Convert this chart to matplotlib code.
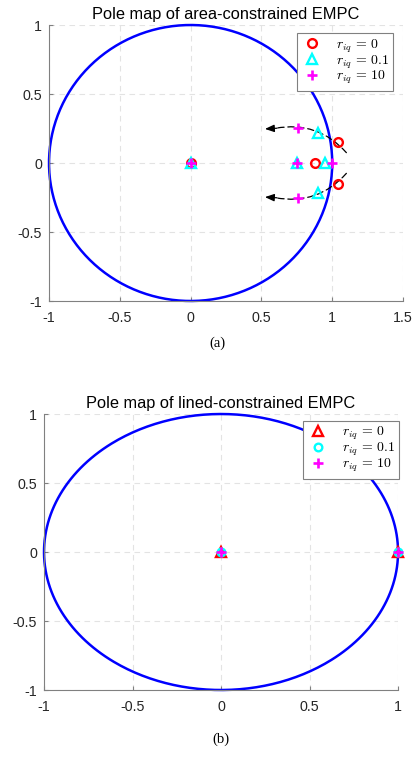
import numpy as np
import matplotlib
matplotlib.use("Agg")
import matplotlib.pyplot as plt
from matplotlib.ticker import FuncFormatter

plt.rcParams['font.family'] = ['Liberation Sans', 'DejaVu Sans']
plt.rcParams['mathtext.fontset'] = 'cm'
plt.rcParams['axes.unicode_minus'] = False

# Closed-loop poles, area-constrained EMPC (real / imaginary parts)
area_r0_re = [0.0, 0.88, 1.04, 1.04]
area_r0_im = [0.0, 0.0, 0.15, -0.15]
area_r01_re = [0.0, 0.75, 0.95, 0.90, 0.90]
area_r01_im = [0.0, 0.0, 0.0, 0.215, -0.215]
area_r10_re = [0.0, 0.75, 1.00, 0.755, 0.755]
area_r10_im = [0.0, 0.0, 0.0, 0.255, -0.255]

# Closed-loop poles, line-constrained EMPC
line_r0_re = [0.0, 1.0]
line_r0_im = [0.0, 0.0]
line_r01_re = [0.0, 1.0]
line_r01_im = [0.0, 0.0]
line_r10_re = [0.0, 1.0]
line_r10_im = [0.0, 0.0]

labels = [r'$r_{iq}\,=\,0$', r'$r_{iq}\,=\,0.1$', r'$r_{iq}\,=\,10$']
top_xticks = [-1, -0.5, 0, 0.5, 1, 1.5]
bot_xticks = [-1, -0.5, 0, 0.5, 1]
yticks = [-1, -0.5, 0, 0.5, 1]

RED, CYAN, MAG, BLUE = '#ff0000', '#00ffff', '#ff00ff', '#0000ff'
SPINE = '#808080'

fig = plt.figure(figsize=(4.16, 7.58), dpi=100)
ax1 = fig.add_axes([0.1178, 0.6029, 0.851, 0.3641])
ax2 = fig.add_axes([0.1058, 0.0897, 0.851, 0.3641])

fmt = FuncFormatter(lambda v, p: f'{v:g}')


def style(ax, xticks, xlim):
    ax.set_xlim(*xlim)
    ax.set_ylim(-1, 1)
    ax.set_xticks(xticks)
    ax.set_yticks(yticks)
    ax.xaxis.set_major_formatter(fmt)
    ax.yaxis.set_major_formatter(fmt)
    for s in ('top', 'right'):
        ax.spines[s].set_visible(False)
    for s in ('left', 'bottom'):
        ax.spines[s].set_color(SPINE)
        ax.spines[s].set_linewidth(0.8)
    ax.tick_params(direction='in', length=3, width=0.8, color=SPINE,
                   labelsize=10.3, labelcolor='#262626')
    ax.tick_params(axis='x', pad=7)
    ax.tick_params(axis='y', pad=5)
    ax.grid(True, linestyle=(0, (5, 4)), color='#e3e3e3', linewidth=0.8)
    ax.set_axisbelow(True)


def legend(ax, anchor):
    leg = ax.legend(loc='upper right', bbox_to_anchor=anchor,
                    borderaxespad=0, fancybox=False, edgecolor=SPINE,
                    framealpha=1, fontsize=10, handlelength=1.6,
                    handletextpad=0.9, borderpad=0.3, labelspacing=-0.1)
    leg.get_frame().set_linewidth(0.8)
    return leg


theta = np.linspace(0, 2 * np.pi, 400)

# (a) area-constrained
style(ax1, top_xticks, (-1, 1.5))
ax1.plot(np.cos(theta), np.sin(theta), color=BLUE, lw=1.8, zorder=2,
         clip_on=False)

# Pole trajectories for increasing r_iq
for sgn in (1, -1):
    ax1.annotate('', xy=(0.60, sgn * 0.252), xytext=(1.10, sgn * 0.075),
                 arrowprops=dict(arrowstyle='-', color='black', lw=0.9,
                                 linestyle=(0, (5, 3)),
                                 connectionstyle=f'arc3,rad={0.28 * sgn}',
                                 shrinkA=0, shrinkB=0), zorder=3)
    ax1.annotate('', xy=(0.525, sgn * 0.247), xytext=(0.61, sgn * 0.252),
                 arrowprops=dict(arrowstyle='-|>,head_length=0.55,head_width=0.22',
                                 color='black', lw=0.9, shrinkA=0, shrinkB=0),
                 zorder=3)

ax1.plot(area_r0_re, area_r0_im, 'o', ls='none', mfc='none', mec=RED, mew=1.7,
         ms=6.3, label=labels[0], zorder=4, clip_on=False)
ax1.plot(area_r01_re, area_r01_im, '^', ls='none', mfc='none', mec=CYAN, mew=1.7,
         ms=7, label=labels[1], zorder=5, clip_on=False)
ax1.plot(area_r10_re, area_r10_im, '+', ls='none', color=MAG, mew=1.9,
         ms=6.5, label=labels[2], zorder=6, clip_on=False)
ax1.set_title('Pole map of area-constrained EMPC', fontsize=11.8, pad=4)
legend(ax1, (0.972, 0.971))

# (b) line-constrained
style(ax2, bot_xticks, (-1, 1))
ax2.plot(np.cos(theta), np.sin(theta), color=BLUE, lw=1.8, zorder=2,
         clip_on=False)
ax2.plot(line_r0_re, line_r0_im, '^', ls='none', mfc='none', mec=RED, mew=1.7,
         ms=7, label=labels[0], zorder=4, clip_on=False)
ax2.plot(line_r01_re, line_r01_im, 'o', ls='none', mfc='none', mec=CYAN, mew=1.7,
         ms=5.5, label=labels[1], zorder=5, clip_on=False)
ax2.plot(line_r10_re, line_r10_im, '+', ls='none', color=MAG, mew=1.9,
         ms=6.5, label=labels[2], zorder=6, clip_on=False)
ax2.set_title('Pole map of lined-constrained EMPC', fontsize=11.8, pad=4)
legend(ax2, (1.003, 0.975))

fig.text(217 / 416, 1 - 343 / 758, '(a)', ha='center', va='center',
         family='Liberation Serif', fontsize=10.5)
fig.text(221 / 416, 1 - 739 / 758, '(b)', ha='center', va='center',
         family='Liberation Serif', fontsize=10.5)

fig.savefig('out.png', dpi=100)
